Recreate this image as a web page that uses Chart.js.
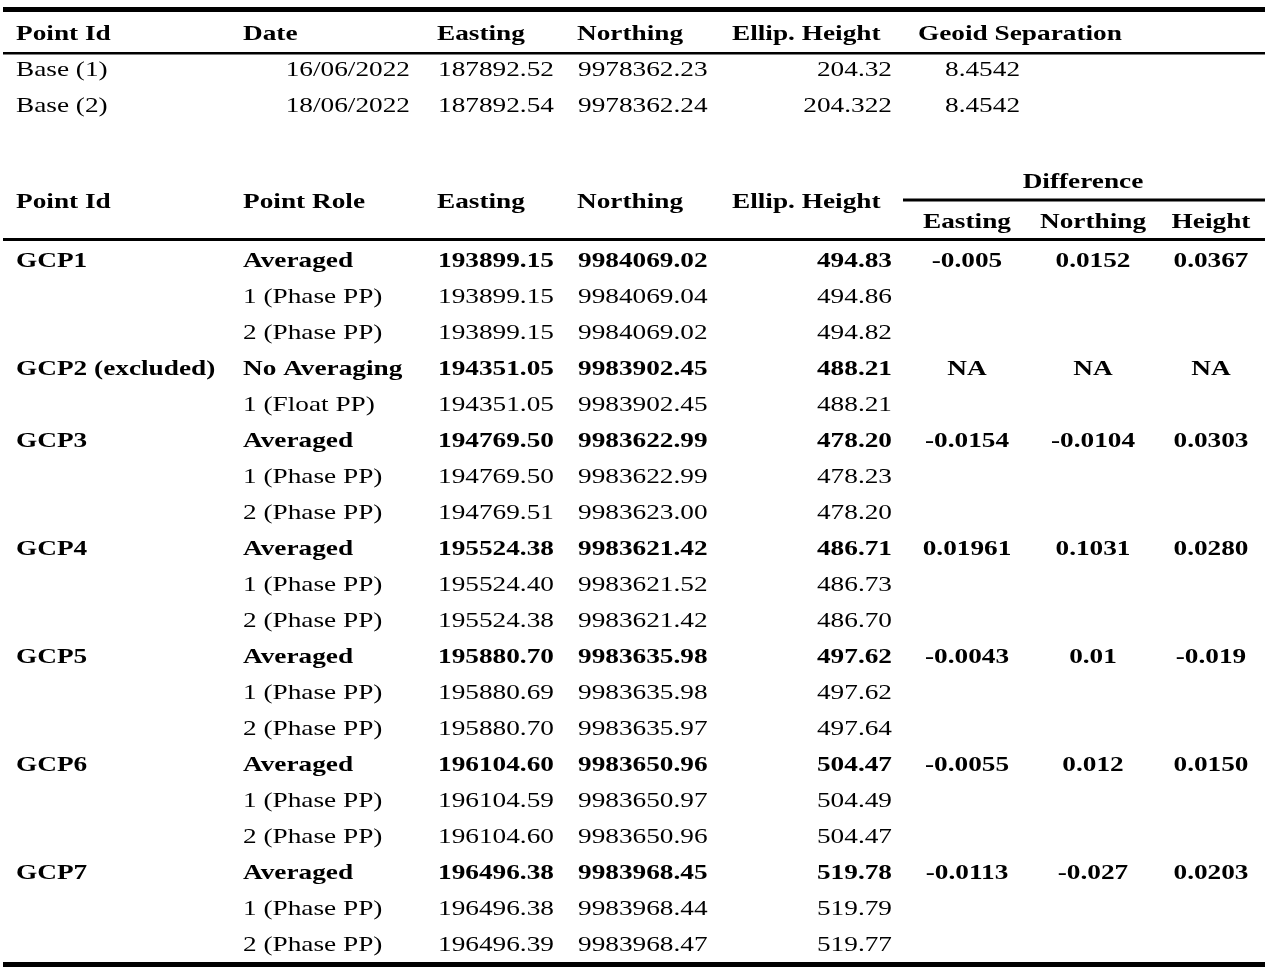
<!DOCTYPE html>
<html>
<head>
<meta charset="utf-8">
<script src="https://cdn.jsdelivr.net/npm/chart.js@4"></script>
<style>
html,body{margin:0;padding:0;background:#fff;}
canvas{display:block;}
</style>
</head>
<body>
<canvas id="c" width="1270" height="977" style="width:1270px;height:977px"></canvas>
<script>
// ---------- DATA ----------
const baseHeaders = ["Point Id","Date","Easting","Northing","Ellip. Height","Geoid Separation"];
const baseIds = ["Base (1)","Base (2)"];
const baseDates = ["16/06/2022","18/06/2022"];
const baseEastings = [187892.52, 187892.54];
const baseNorthings = [9978362.23, 9978362.24];
const baseHeights = [204.32, 204.322];
const baseGeoid = [8.4542, 8.4542];

const gcpHeaders = ["Point Id","Point Role","Easting","Northing","Ellip. Height"];
const diffGroupLabel = "Difference";
const diffHeaders = ["Easting","Northing","Height"];

const rowIds = ["GCP1","","","GCP2 (excluded)","","GCP3","","","GCP4","","","GCP5","","","GCP6","","","GCP7","",""];
const roles = ["Averaged","1 (Phase PP)","2 (Phase PP)","No Averaging","1 (Float PP)",
  "Averaged","1 (Phase PP)","2 (Phase PP)","Averaged","1 (Phase PP)","2 (Phase PP)",
  "Averaged","1 (Phase PP)","2 (Phase PP)","Averaged","1 (Phase PP)","2 (Phase PP)",
  "Averaged","1 (Phase PP)","2 (Phase PP)"];
const eastings = [193899.15,193899.15,193899.15,194351.05,194351.05,194769.50,194769.50,194769.51,
  195524.38,195524.40,195524.38,195880.70,195880.69,195880.70,196104.60,196104.59,196104.60,
  196496.38,196496.38,196496.39];
const northings = [9984069.02,9984069.04,9984069.02,9983902.45,9983902.45,9983622.99,9983622.99,9983623.00,
  9983621.42,9983621.52,9983621.42,9983635.98,9983635.98,9983635.97,9983650.96,9983650.97,9983650.96,
  9983968.45,9983968.44,9983968.47];
const heights = [494.83,494.86,494.82,488.21,488.21,478.20,478.23,478.20,486.71,486.73,486.70,
  497.62,497.62,497.64,504.47,504.49,504.47,519.78,519.79,519.77];
const diffEasting = ["-0.005","NA","-0.0154","0.01961","-0.0043","-0.0055","-0.0113"];
const diffNorthing = ["0.0152","NA","-0.0104","0.1031","0.01","0.012","-0.027"];
const diffHeight = ["0.0367","NA","0.0303","0.0280","-0.019","0.0150","0.0203"];

// ---------- LAYOUT / STYLE ----------
const FONT_FAMILY = '"Liberation Serif","Times New Roman",serif';
const FONT_SIZE = 22;
const SCALE_X = 1.24;
const ROW_H = 36;
// column anchors (x, align)
const baseCols = [
  {x:16, align:'left'}, {x:410, align:'right'}, {x:438, align:'left'},
  {x:578, align:'left'}, {x:892, align:'right'}, {x:945, align:'left'}
];
const baseHeadCols = [
  {x:16, align:'left'}, {x:243, align:'left'}, {x:437, align:'left'},
  {x:577, align:'left'}, {x:732, align:'left'}, {x:918, align:'left'}
];
const gcpCols = [
  {x:16, align:'left'}, {x:243, align:'left'}, {x:438, align:'left'},
  {x:578, align:'left'}, {x:892, align:'right'}
];
const gcpHeadCols = [
  {x:16, align:'left'}, {x:243, align:'left'}, {x:437, align:'left'},
  {x:577, align:'left'}, {x:732, align:'left'}
];
const diffCols = [967, 1093, 1211];

const tablePlugin = {
  id: 'tableDraw',
  afterDraw(chart) {
    const ctx = chart.ctx;
    const xs = chart.scales.x, ys = chart.scales.y;
    const X = v => xs.getPixelForValue(v);
    const Y = v => ys.getPixelForValue(v);

    function text(str, x, y, align, bold) {
      ctx.save();
      ctx.font = (bold ? 'bold ' : '') + FONT_SIZE + 'px ' + FONT_FAMILY;
      ctx.fillStyle = '#000';
      ctx.textBaseline = 'alphabetic';
      ctx.textAlign = align;
      ctx.translate(X(x), Y(y));
      ctx.scale(SCALE_X, 1);
      ctx.fillText(str, 0, 0);
      ctx.restore();
    }
    function rule(x0, x1, y0, h) {
      ctx.save();
      ctx.fillStyle = '#000';
      const top = Y(y0), bot = Y(y0 + h);
      ctx.fillRect(X(x0), top, X(x1) - X(x0), bot - top);
      ctx.restore();
    }

    // Rules
    rule(3, 1265, 7, 5);
    rule(3, 1265, 52, 2.5);
    rule(903, 1265, 198.5, 3);
    rule(3, 1265, 238, 3);
    rule(3, 1265, 962, 5);

    // Table 1 header
    baseHeaders.forEach((h, i) => text(h, baseHeadCols[i].x, 40, baseHeadCols[i].align, true));
    // Table 1 rows
    baseIds.forEach((id, r) => {
      const y = 76 + r * ROW_H;
      const cells = [id, baseDates[r], baseEastings[r].toFixed(2), baseNorthings[r].toFixed(2),
        String(baseHeights[r]), String(baseGeoid[r])];
      cells.forEach((c, i) => text(c, baseCols[i].x, y, baseCols[i].align, false));
    });

    // Table 2 header
    gcpHeaders.forEach((h, i) => text(h, gcpHeadCols[i].x, 208, gcpHeadCols[i].align, true));
    text(diffGroupLabel, 1083, 188, 'center', true);
    diffHeaders.forEach((h, i) => text(h, diffCols[i], 228, 'center', true));

    // Table 2 rows
    let g = -1;
    roles.forEach((role, r) => {
      const y = 267 + r * ROW_H;
      const bold = rowIds[r] !== '';
      const cells = [rowIds[r], role, eastings[r].toFixed(2), northings[r].toFixed(2), heights[r].toFixed(2)];
      cells.forEach((c, i) => { if (c) text(c, gcpCols[i].x, y, gcpCols[i].align, bold); });
      if (bold) {
        g++;
        [diffEasting[g], diffNorthing[g], diffHeight[g]].forEach((d, i) => text(d, diffCols[i], y, 'center', true));
      }
    });
  }
};

new Chart(document.getElementById('c'), {
  type: 'scatter',
  data: { datasets: [] },
  options: {
    responsive: false,
    animation: false,
    devicePixelRatio: 1,
    layout: { padding: 0 },
    plugins: { legend: { display: false }, tooltip: { enabled: false } },
    scales: {
      x: { type: 'linear', min: 0, max: 1270, display: false },
      y: { type: 'linear', min: 0, max: 977, reverse: true, display: false }
    }
  },
  plugins: [tablePlugin]
});
</script>
</body>
</html>
